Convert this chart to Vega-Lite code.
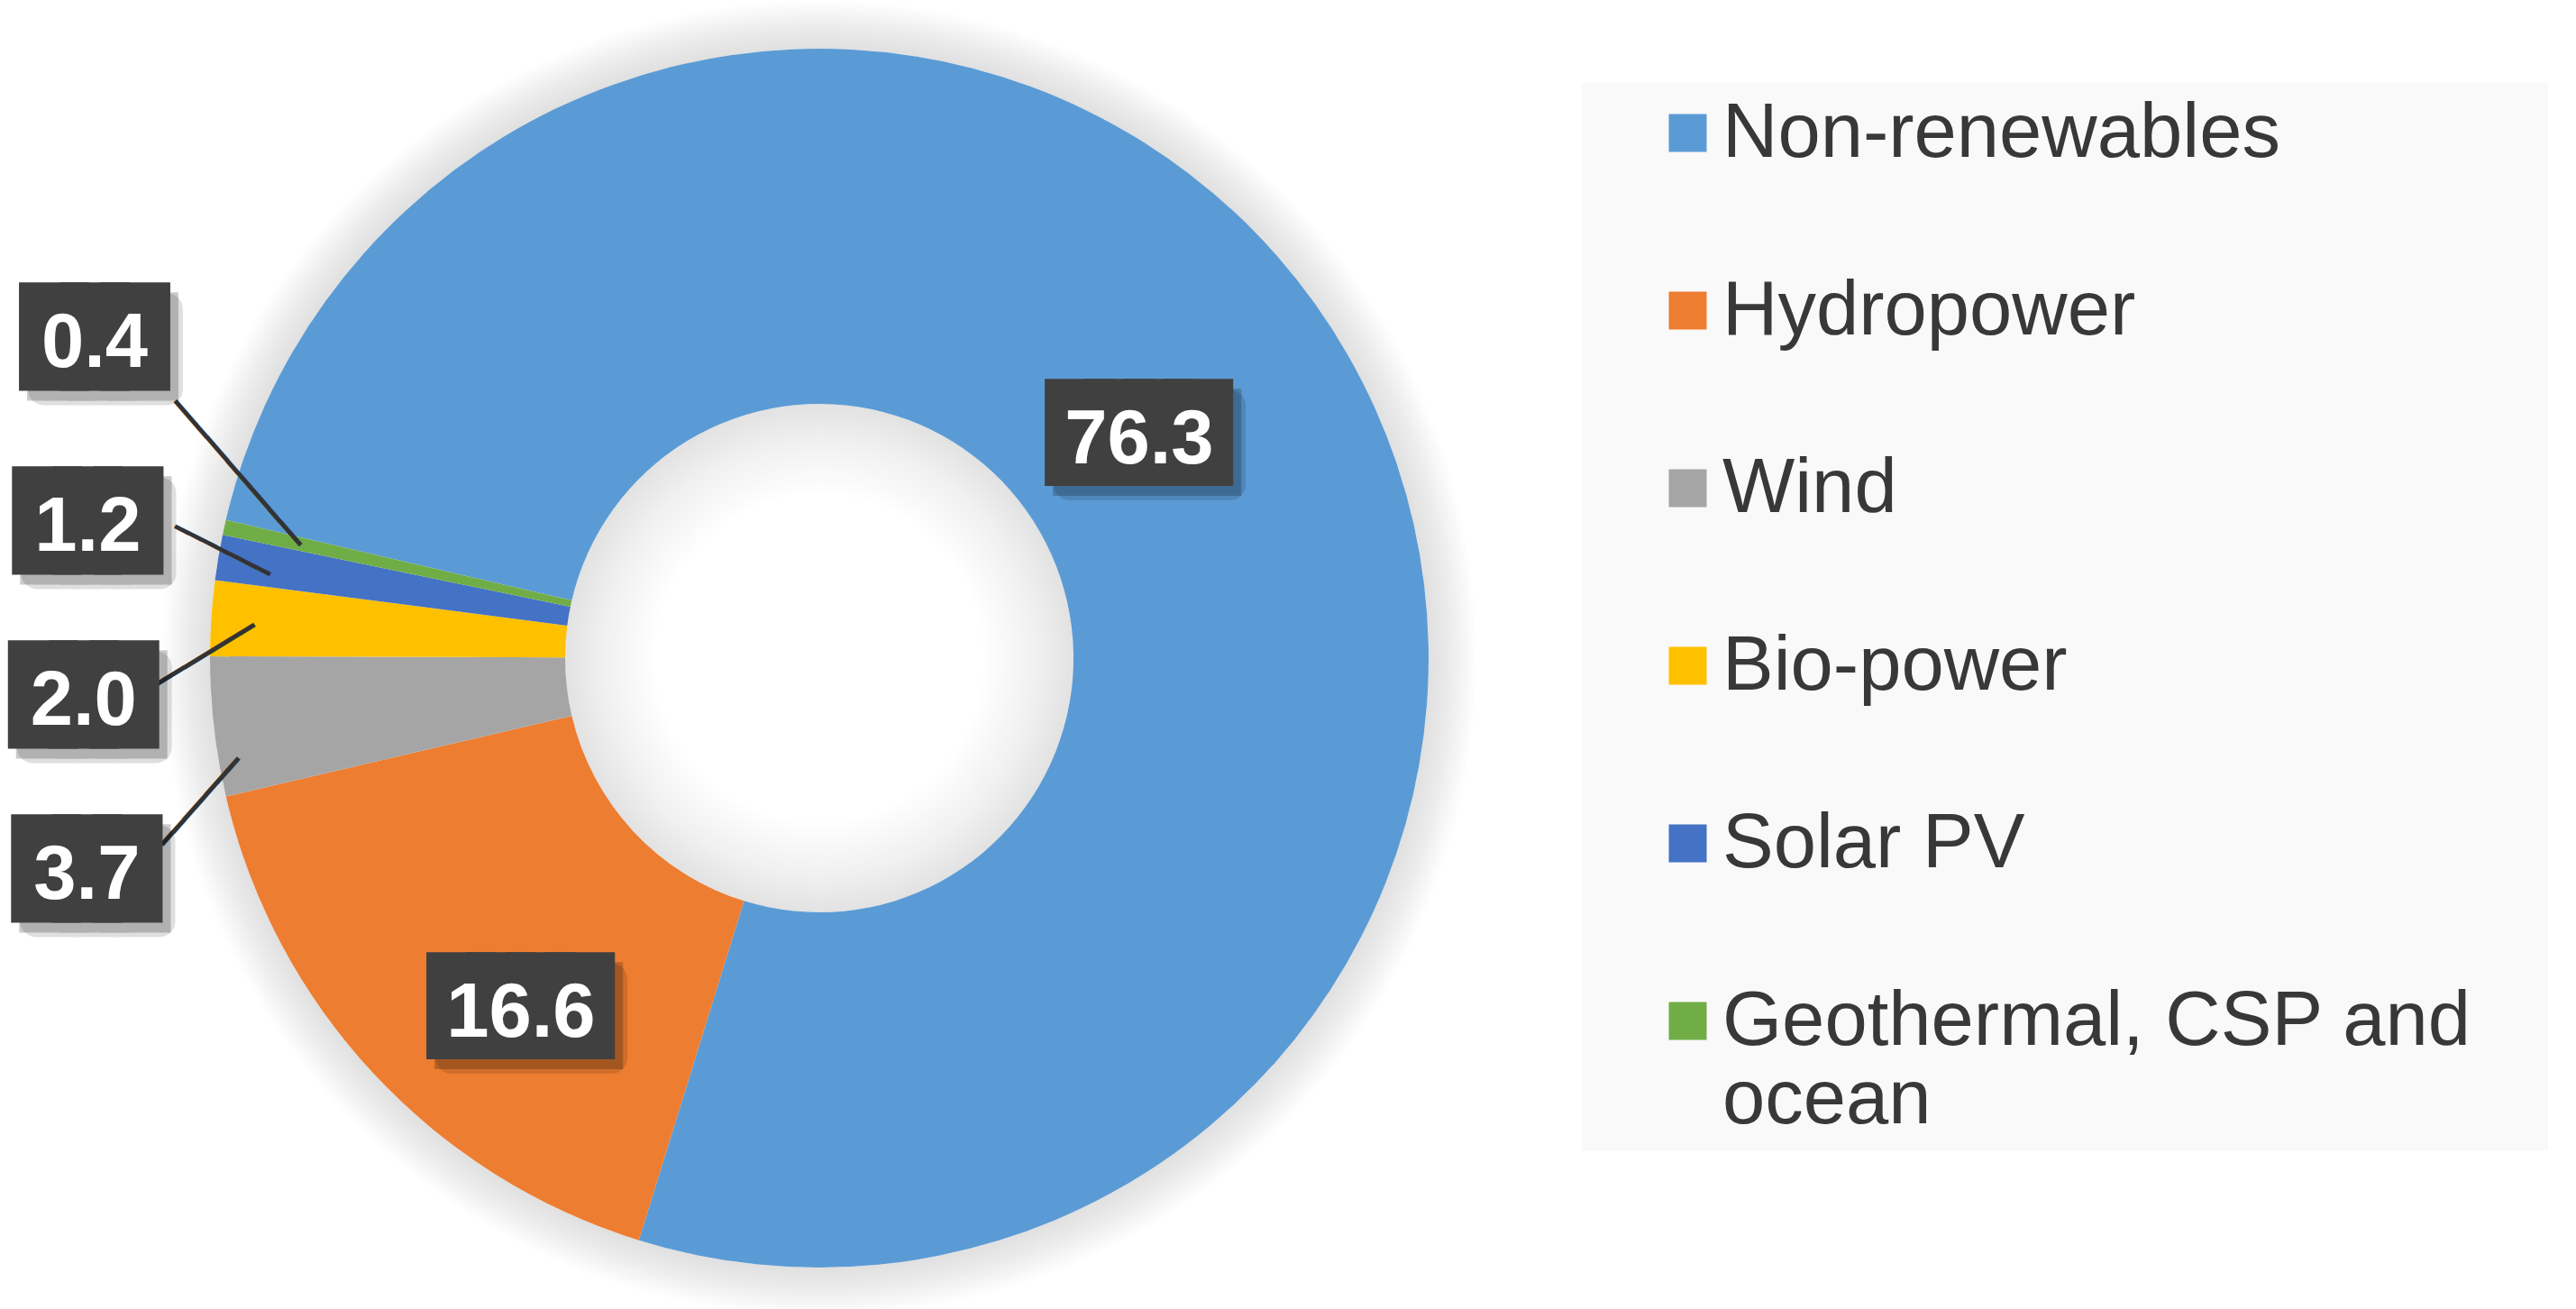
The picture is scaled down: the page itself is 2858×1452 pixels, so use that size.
{
  "$schema": "https://vega.github.io/schema/vega-lite/v6.json",
  "width": 1818,
  "height": 1460,
  "padding": 0,
  "autosize": {"type": "pad"},
  "background": "white",
  "config": {"view": {"stroke": null}},
  "data": {"values": [
    {"category": "Non-renewables", "value": 76.3, "order": 1, "label": "76.3"},
    {"category": "Hydropower", "value": 16.6, "order": 2, "label": "16.6"},
    {"category": "Wind", "value": 3.7, "order": 3, "label": "3.7"},
    {"category": "Bio-power", "value": 2.0, "order": 4, "label": "2.0"},
    {"category": "Solar PV", "value": 1.2, "order": 5, "label": "1.2"},
    {"category": "Geothermal, CSP and ocean", "value": 0.4, "order": 6, "label": "0.4"}
  ]},
  "layer": [
    {
      "data": {"values": [{}]},
      "mark": {"type": "arc", "innerRadius": 676, "outerRadius": 730,
        "fill": {"gradient": "radial", "x1": 0.5, "y1": 0.5, "x2": 0.5, "y2": 0.5, "r1": 0.463, "r2": 0.5,
          "stops": [{"offset": 0, "color": "#e0e0e0"}, {"offset": 0.45, "color": "#ececec"}, {"offset": 1, "color": "#ffffff"}]}},
      "encoding": {"theta": {"value": 6.2832}}
    },
    {
      "data": {"values": [{}]},
      "mark": {"type": "arc", "innerRadius": 180, "outerRadius": 282,
        "fill": {"gradient": "radial", "x1": 0.5, "y1": 0.5, "x2": 0.5, "y2": 0.5, "r1": 0.319, "r2": 0.5,
          "stops": [{"offset": 0, "color": "#ffffff"}, {"offset": 0.6, "color": "#f0f0f0"}, {"offset": 1, "color": "#e2e2e2"}]}},
      "encoding": {"theta": {"value": 6.2832}}
    },
    {
      "mark": {"type": "arc", "innerRadius": 282, "outerRadius": 676},
      "encoding": {
        "theta": {"field": "value", "type": "quantitative", "stack": true, "scale": {"range": [-1.3422, 4.9410], "nice": false}},
        "order": {"field": "order", "type": "quantitative"},
        "color": {"field": "category", "type": "nominal",
          "scale": {"domain": ["Non-renewables", "Hydropower", "Wind", "Bio-power", "Solar PV", "Geothermal, CSP and ocean"],
                    "range": ["#5B9BD5", "#ED7D31", "#A5A5A5", "#FFC000", "#4472C4", "#70AD47"]},
          "legend": {"title": null, "orient": "none", "legendX": 1755, "legendY": 92, "padding": 13,
            "fillColor": "#f9f9f9", "symbolType": "square", "symbolSize": 1764, "symbolStrokeWidth": 0,
            "symbolOffset": 62, "labelFont": "Liberation Sans", "labelFontSize": 85, "labelColor": "#383838",
            "labelOffset": -4, "labelLimit": 3000, "rowPadding": 111,
            "labelExpr": "datum.label == 'Geothermal, CSP and ocean' ? ['Geothermal, CSP and\u00a0\u00a0\u00a0\u200b', 'ocean'] : datum.label"}
        }
      }
    },
    {
      "mark": {"type": "text", "font": "DejaVu Sans Mono", "fontSize": 29.3, "fill": "#333333", "radius": 674.5, "dx": -36.8, "dy": -49.2, "angle": 49, "align": "center", "baseline": "middle"},
      "encoding": {
        "theta": {"field": "value", "type": "quantitative", "stack": true},
        "order": {"field": "order", "type": "quantitative"},
        "text": {"condition": {"test": "datum.order === 6", "value": "━━━━━━━━━━━━"}, "value": ""}
      }
    },
    {
      "mark": {"type": "text", "font": "DejaVu Sans Mono", "fontSize": 28, "fill": "#333333", "radius": 673, "dx": -2.3, "dy": -6.7, "angle": 26.8, "align": "center", "baseline": "middle"},
      "encoding": {
        "theta": {"field": "value", "type": "quantitative", "stack": true},
        "order": {"field": "order", "type": "quantitative"},
        "text": {"condition": {"test": "datum.order === 5", "value": "━━━━━━━"}, "value": ""}
      }
    },
    {
      "mark": {"type": "text", "font": "DejaVu Sans Mono", "fontSize": 30.1, "fill": "#333333", "radius": 678.7, "dx": -24.2, "dy": 33.9, "angle": -31.4, "align": "center", "baseline": "middle"},
      "encoding": {
        "theta": {"field": "value", "type": "quantitative", "stack": true},
        "order": {"field": "order", "type": "quantitative"},
        "text": {"condition": {"test": "datum.order === 4", "value": "━━━━━━━"}, "value": ""}
      }
    },
    {
      "mark": {"type": "text", "font": "DejaVu Sans Mono", "fontSize": 30.4, "fill": "#333333", "radius": 699.2, "dx": -54.7, "dy": 60.4, "angle": -48.5, "align": "center", "baseline": "middle"},
      "encoding": {
        "theta": {"field": "value", "type": "quantitative", "stack": true},
        "order": {"field": "order", "type": "quantitative"},
        "text": {"condition": {"test": "datum.order === 3", "value": "━━━━━━━"}, "value": ""}
      }
    },

    {"mark": {"type": "text", "font": "DejaVu Sans Mono", "fontSize": 73, "fill": "#000000", "stroke": "#000000", "strokeWidth": 36, "strokeJoin": "round", "opacity": 0.12, "radius": 431, "dx": -7, "dy": -19, "align": "center", "baseline": "middle"},
     "encoding": {"theta": {"field": "value", "type": "quantitative", "stack": true}, "order": {"field": "order", "type": "quantitative"},
       "text": {"condition": {"test": "datum.order === 1", "value": "████"}, "value": ""}}},
    {"mark": {"type": "text", "font": "DejaVu Sans Mono", "fontSize": 73, "fill": "#000000", "stroke": "#000000", "strokeWidth": 32, "strokeJoin": "miter", "opacity": 0.2, "radius": 431, "dx": -10, "dy": -22, "align": "center", "baseline": "middle"},
     "encoding": {"theta": {"field": "value", "type": "quantitative", "stack": true}, "order": {"field": "order", "type": "quantitative"},
       "text": {"condition": {"test": "datum.order === 1", "value": "████"}, "value": ""}}},
    {"mark": {"type": "text", "font": "DejaVu Sans Mono", "fontSize": 73, "fill": "#404040", "stroke": "#404040", "strokeWidth": 32, "strokeJoin": "miter", "radius": 431, "dx": -19, "dy": -33, "align": "center", "baseline": "middle"},
     "encoding": {"theta": {"field": "value", "type": "quantitative", "stack": true}, "order": {"field": "order", "type": "quantitative"},
       "text": {"condition": {"test": "datum.order === 1", "value": "████"}, "value": ""}}},
    {"mark": {"type": "text", "font": "Liberation Sans", "fontWeight": "bold", "fontSize": 85, "fill": "#ffffff", "radius": 431, "dx": -19, "dy": -28, "align": "center", "baseline": "middle"},
     "encoding": {"theta": {"field": "value", "type": "quantitative", "stack": true}, "order": {"field": "order", "type": "quantitative"},
       "text": {"condition": {"test": "datum.order === 1", "field": "label", "type": "nominal"}, "value": ""}}},

    {"mark": {"type": "text", "font": "DejaVu Sans Mono", "fontSize": 73, "fill": "#000000", "stroke": "#000000", "strokeWidth": 36, "strokeJoin": "round", "opacity": 0.12, "radius": 507, "dx": 52, "dy": 58, "align": "center", "baseline": "middle"},
     "encoding": {"theta": {"field": "value", "type": "quantitative", "stack": true}, "order": {"field": "order", "type": "quantitative"},
       "text": {"condition": {"test": "datum.order === 2", "value": "████"}, "value": ""}}},
    {"mark": {"type": "text", "font": "DejaVu Sans Mono", "fontSize": 73, "fill": "#000000", "stroke": "#000000", "strokeWidth": 32, "strokeJoin": "miter", "opacity": 0.2, "radius": 507, "dx": 49, "dy": 55, "align": "center", "baseline": "middle"},
     "encoding": {"theta": {"field": "value", "type": "quantitative", "stack": true}, "order": {"field": "order", "type": "quantitative"},
       "text": {"condition": {"test": "datum.order === 2", "value": "████"}, "value": ""}}},
    {"mark": {"type": "text", "font": "DejaVu Sans Mono", "fontSize": 73, "fill": "#404040", "stroke": "#404040", "strokeWidth": 32, "strokeJoin": "miter", "radius": 507, "dx": 40, "dy": 44, "align": "center", "baseline": "middle"},
     "encoding": {"theta": {"field": "value", "type": "quantitative", "stack": true}, "order": {"field": "order", "type": "quantitative"},
       "text": {"condition": {"test": "datum.order === 2", "value": "████"}, "value": ""}}},
    {"mark": {"type": "text", "font": "Liberation Sans", "fontWeight": "bold", "fontSize": 85, "fill": "#ffffff", "radius": 507, "dx": 40, "dy": 49, "align": "center", "baseline": "middle"},
     "encoding": {"theta": {"field": "value", "type": "quantitative", "stack": true}, "order": {"field": "order", "type": "quantitative"},
       "text": {"condition": {"test": "datum.order === 2", "field": "label", "type": "nominal"}, "value": ""}}},

    {"mark": {"type": "text", "font": "DejaVu Sans Mono", "fontSize": 75, "fill": "#000000", "stroke": "#000000", "strokeWidth": 35, "strokeJoin": "round", "opacity": 0.12, "radius": 834, "dx": 28, "dy": 156, "align": "center", "baseline": "middle"},
     "encoding": {"theta": {"field": "value", "type": "quantitative", "stack": true}, "order": {"field": "order", "type": "quantitative"},
       "text": {"condition": {"test": "datum.order === 3", "value": "███"}, "value": ""}}},
    {"mark": {"type": "text", "font": "DejaVu Sans Mono", "fontSize": 75, "fill": "#000000", "stroke": "#000000", "strokeWidth": 31, "strokeJoin": "miter", "opacity": 0.2, "radius": 834, "dx": 25, "dy": 153, "align": "center", "baseline": "middle"},
     "encoding": {"theta": {"field": "value", "type": "quantitative", "stack": true}, "order": {"field": "order", "type": "quantitative"},
       "text": {"condition": {"test": "datum.order === 3", "value": "███"}, "value": ""}}},
    {"mark": {"type": "text", "font": "DejaVu Sans Mono", "fontSize": 75, "fill": "#404040", "stroke": "#404040", "strokeWidth": 31, "strokeJoin": "miter", "radius": 834, "dx": 16, "dy": 142, "align": "center", "baseline": "middle"},
     "encoding": {"theta": {"field": "value", "type": "quantitative", "stack": true}, "order": {"field": "order", "type": "quantitative"},
       "text": {"condition": {"test": "datum.order === 3", "value": "███"}, "value": ""}}},
    {"mark": {"type": "text", "font": "Liberation Sans", "fontWeight": "bold", "fontSize": 85, "fill": "#ffffff", "radius": 834, "dx": 16, "dy": 147, "align": "center", "baseline": "middle"},
     "encoding": {"theta": {"field": "value", "type": "quantitative", "stack": true}, "order": {"field": "order", "type": "quantitative"},
       "text": {"condition": {"test": "datum.order === 3", "field": "label", "type": "nominal"}, "value": ""}}},

    {"mark": {"type": "text", "font": "DejaVu Sans Mono", "fontSize": 75, "fill": "#000000", "stroke": "#000000", "strokeWidth": 35, "strokeJoin": "round", "opacity": 0.12, "radius": 812, "dx": 6, "dy": 110, "align": "center", "baseline": "middle"},
     "encoding": {"theta": {"field": "value", "type": "quantitative", "stack": true}, "order": {"field": "order", "type": "quantitative"},
       "text": {"condition": {"test": "datum.order === 4", "value": "███"}, "value": ""}}},
    {"mark": {"type": "text", "font": "DejaVu Sans Mono", "fontSize": 75, "fill": "#000000", "stroke": "#000000", "strokeWidth": 31, "strokeJoin": "miter", "opacity": 0.2, "radius": 812, "dx": 3, "dy": 107, "align": "center", "baseline": "middle"},
     "encoding": {"theta": {"field": "value", "type": "quantitative", "stack": true}, "order": {"field": "order", "type": "quantitative"},
       "text": {"condition": {"test": "datum.order === 4", "value": "███"}, "value": ""}}},
    {"mark": {"type": "text", "font": "DejaVu Sans Mono", "fontSize": 75, "fill": "#404040", "stroke": "#404040", "strokeWidth": 31, "strokeJoin": "miter", "radius": 812, "dx": -6, "dy": 96, "align": "center", "baseline": "middle"},
     "encoding": {"theta": {"field": "value", "type": "quantitative", "stack": true}, "order": {"field": "order", "type": "quantitative"},
       "text": {"condition": {"test": "datum.order === 4", "value": "███"}, "value": ""}}},
    {"mark": {"type": "text", "font": "Liberation Sans", "fontWeight": "bold", "fontSize": 85, "fill": "#ffffff", "radius": 812, "dx": -6, "dy": 101, "align": "center", "baseline": "middle"},
     "encoding": {"theta": {"field": "value", "type": "quantitative", "stack": true}, "order": {"field": "order", "type": "quantitative"},
       "text": {"condition": {"test": "datum.order === 4", "field": "label", "type": "nominal"}, "value": ""}}},

    {"mark": {"type": "text", "font": "DejaVu Sans Mono", "fontSize": 75, "fill": "#000000", "stroke": "#000000", "strokeWidth": 35, "strokeJoin": "round", "opacity": 0.12, "radius": 825, "dx": 14, "dy": 0, "align": "center", "baseline": "middle"},
     "encoding": {"theta": {"field": "value", "type": "quantitative", "stack": true}, "order": {"field": "order", "type": "quantitative"},
       "text": {"condition": {"test": "datum.order === 5", "value": "███"}, "value": ""}}},
    {"mark": {"type": "text", "font": "DejaVu Sans Mono", "fontSize": 75, "fill": "#000000", "stroke": "#000000", "strokeWidth": 31, "strokeJoin": "miter", "opacity": 0.2, "radius": 825, "dx": 11, "dy": -3, "align": "center", "baseline": "middle"},
     "encoding": {"theta": {"field": "value", "type": "quantitative", "stack": true}, "order": {"field": "order", "type": "quantitative"},
       "text": {"condition": {"test": "datum.order === 5", "value": "███"}, "value": ""}}},
    {"mark": {"type": "text", "font": "DejaVu Sans Mono", "fontSize": 75, "fill": "#404040", "stroke": "#404040", "strokeWidth": 31, "strokeJoin": "miter", "radius": 825, "dx": 2, "dy": -14, "align": "center", "baseline": "middle"},
     "encoding": {"theta": {"field": "value", "type": "quantitative", "stack": true}, "order": {"field": "order", "type": "quantitative"},
       "text": {"condition": {"test": "datum.order === 5", "value": "███"}, "value": ""}}},
    {"mark": {"type": "text", "font": "Liberation Sans", "fontWeight": "bold", "fontSize": 85, "fill": "#ffffff", "radius": 825, "dx": 2, "dy": -9, "align": "center", "baseline": "middle"},
     "encoding": {"theta": {"field": "value", "type": "quantitative", "stack": true}, "order": {"field": "order", "type": "quantitative"},
       "text": {"condition": {"test": "datum.order === 5", "field": "label", "type": "nominal"}, "value": ""}}},

    {"mark": {"type": "text", "font": "DejaVu Sans Mono", "fontSize": 75, "fill": "#000000", "stroke": "#000000", "strokeWidth": 35, "strokeJoin": "round", "opacity": 0.12, "radius": 861, "dx": 49, "dy": -155, "align": "center", "baseline": "middle"},
     "encoding": {"theta": {"field": "value", "type": "quantitative", "stack": true}, "order": {"field": "order", "type": "quantitative"},
       "text": {"condition": {"test": "datum.order === 6", "value": "███"}, "value": ""}}},
    {"mark": {"type": "text", "font": "DejaVu Sans Mono", "fontSize": 75, "fill": "#000000", "stroke": "#000000", "strokeWidth": 31, "strokeJoin": "miter", "opacity": 0.2, "radius": 861, "dx": 46, "dy": -158, "align": "center", "baseline": "middle"},
     "encoding": {"theta": {"field": "value", "type": "quantitative", "stack": true}, "order": {"field": "order", "type": "quantitative"},
       "text": {"condition": {"test": "datum.order === 6", "value": "███"}, "value": ""}}},
    {"mark": {"type": "text", "font": "DejaVu Sans Mono", "fontSize": 75, "fill": "#404040", "stroke": "#404040", "strokeWidth": 31, "strokeJoin": "miter", "radius": 861, "dx": 37, "dy": -169, "align": "center", "baseline": "middle"},
     "encoding": {"theta": {"field": "value", "type": "quantitative", "stack": true}, "order": {"field": "order", "type": "quantitative"},
       "text": {"condition": {"test": "datum.order === 6", "value": "███"}, "value": ""}}},
    {"mark": {"type": "text", "font": "Liberation Sans", "fontWeight": "bold", "fontSize": 85, "fill": "#ffffff", "radius": 861, "dx": 37, "dy": -164, "align": "center", "baseline": "middle"},
     "encoding": {"theta": {"field": "value", "type": "quantitative", "stack": true}, "order": {"field": "order", "type": "quantitative"},
       "text": {"condition": {"test": "datum.order === 6", "field": "label", "type": "nominal"}, "value": ""}}}
  ]
}
